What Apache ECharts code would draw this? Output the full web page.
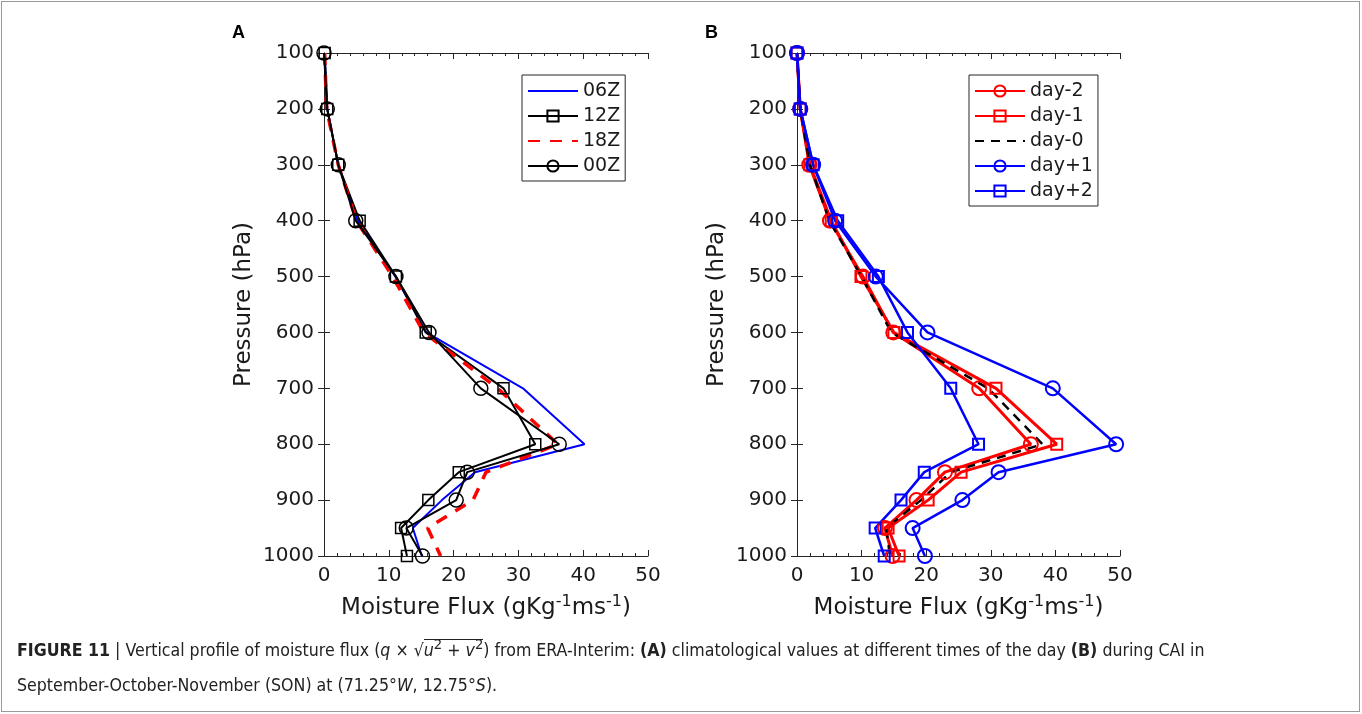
<!DOCTYPE html>
<html>
<head>
<meta charset="utf-8">
<script src="https://cdn.jsdelivr.net/npm/echarts@6/dist/echarts.min.js"></script>
<style>
  html, body { margin: 0; padding: 0; background: #fff; }
  #frame { position: absolute; left: 1px; top: 1px; width: 1359px; height: 711px; border: 1px solid #9a9a9a; box-sizing: border-box; }
  #chart { position: absolute; left: 0; top: 0; width: 1362px; height: 630px; }
  #caption { position: absolute; left: 17px; top: 626px; font-family: "Liberation Sans Narrow", "DejaVu Sans Condensed", "Liberation Sans", sans-serif; font-size: 17.6px; line-height: 35px; color: #222; white-space: nowrap; }
  #caption b { font-weight: bold; }
  .rad { border-top: 1px solid #222; }
</style>
</head>
<body>
<div id="frame"></div>
<div id="chart"></div>
<div id="caption">
  <b>FIGURE 11</b> | Vertical profile of moisture flux (<i>q</i> &times; &radic;<span class="rad"><i>u</i><sup>2</sup> + <i>v</i><sup>2</sup></span>) from ERA-Interim: <b>(A)</b> climatological values at different times of the day <b>(B)</b> during CAI in<br>
  September-October-November (SON) at (71.25&deg;<i>W</i>, 12.75&deg;<i>S</i>).
</div>
<script>
// pressure levels (hPa)
const pressure = [100, 200, 300, 400, 500, 600, 700, 800, 850, 900, 950, 1000];

// panel A: climatology by hour
const flux06Z = [0.1, 0.5, 2.2, 5.2, 11.0, 15.8, 30.7, 40.2, 23.3, 18.2, 13.7, 15.1];
const flux12Z = [0.1, 0.5, 2.2, 5.5, 11.1, 15.7, 27.7, 32.6, 20.8, 16.1, 11.9, 12.8];
const flux18Z = [0.1, 0.4, 2.2, 5.0, 10.6, 15.4, 26.8, 36.1, 25.0, 23.0, 16.0, 18.0];
const flux00Z = [0.0, 0.5, 2.2, 4.9, 11.1, 16.2, 24.2, 36.3, 22.1, 20.4, 12.7, 15.2];

// panel B: composite around CAI days
const dayM2 = [0.0, 0.5, 1.9, 5.1, 10.2, 14.9, 28.2, 36.2, 22.9, 18.5, 13.6, 14.8];
const dayM1 = [0.0, 0.5, 2.0, 5.3, 9.9, 15.0, 30.8, 40.2, 25.4, 20.3, 14.1, 15.8];
const day0 = [0.0, 0.5, 2.0, 5.0, 10.0, 14.6, 29.6, 38.0, 23.8, 19.2, 13.8, 14.4];
const dayP1 = [0.0, 0.5, 2.5, 5.9, 12.2, 20.2, 39.6, 49.4, 31.2, 25.6, 17.9, 19.8];
const dayP2 = [0.0, 0.5, 2.5, 6.3, 12.6, 17.1, 23.8, 28.1, 19.7, 16.1, 12.1, 13.5];

const legendA = ["06Z", "12Z", "18Z", "00Z"];
const legendB = ["day-2", "day-1", "day-0", "day+1", "day+2"];

const axisColor = "#262626";
const textColor = "#1a1a1a";
const font = "DejaVu Sans";
const blue = "#0000ff";
const red = "#ff0000";

const tickStyle = { inside: true, length: 6, lineStyle: { color: axisColor, width: 1 } };
const minorStyle = { show: true, splitNumber: 5, length: 3, lineStyle: { color: axisColor, width: 1 } };
const plainNum = (v) => String(v);

function xAxes(grid) {
  return [
    {
      gridIndex: grid, type: "value", min: 0, max: 50, interval: 10, position: "bottom",
      axisLine: { lineStyle: { color: axisColor, width: 1 } },
      axisTick: tickStyle, minorTick: minorStyle,
      axisLabel: { fontSize: 20, fontFamily: font, color: textColor, margin: 10, formatter: plainNum },
      splitLine: { show: false },
      name: "{m|Moisture Flux (gKg}{s|-1}{m|ms}{s|-1}{m|)}",
      nameLocation: "middle", nameGap: 38,
      nameTextStyle: {
        rich: {
          m: { fontSize: 23, fontFamily: font, color: textColor, lineHeight: 28 },
          s: { fontSize: 16, fontFamily: font, color: textColor, lineHeight: 8, verticalAlign: "top" },
        },
      },
    },
    {
      gridIndex: grid, type: "value", min: 0, max: 50, interval: 10, position: "top",
      axisLine: { lineStyle: { color: axisColor, width: 1 } },
      axisTick: tickStyle, minorTick: minorStyle,
      axisLabel: { show: false }, splitLine: { show: false },
    },
  ];
}

function yAxes(grid) {
  return [
    {
      gridIndex: grid, type: "value", min: 100, max: 1000, interval: 100, inverse: true, position: "left",
      axisLine: { lineStyle: { color: axisColor, width: 1 } },
      axisTick: tickStyle,
      axisLabel: { fontSize: 20, fontFamily: font, color: textColor, margin: 10, formatter: plainNum },
      splitLine: { show: false },
      name: "Pressure (hPa)", nameLocation: "middle", nameGap: 68,
      nameTextStyle: { fontSize: 23, fontFamily: font, color: textColor },
    },
    {
      gridIndex: grid, type: "value", min: 100, max: 1000, interval: 100, inverse: true, position: "right",
      axisLine: { lineStyle: { color: axisColor, width: 1 } },
      axisTick: tickStyle,
      axisLabel: { show: false }, splitLine: { show: false },
    },
  ];
}

function profile(name, vals, axis, color, o) {
  const hasMarker = !!o.symbol;
  return {
    name: name,
    type: "line",
    xAxisIndex: axis,
    yAxisIndex: axis,
    data: vals.map((v, i) => [v, pressure[i]]),
    symbol: o.symbol || "none",
    symbolSize: o.size || 12,
    clip: false,
    lineStyle: { color: color, width: o.width || 2, type: o.dash || "solid" },
    // lines without markers get an invisible legend marker too
    itemStyle: { color: "rgba(0,0,0,0)", borderColor: hasMarker ? color : "rgba(0,0,0,0)", borderWidth: o.bw || 1.5 },
    emphasis: { disabled: true },
    z: o.z || 2,
  };
}

function legendBox(names, left) {
  return {
    data: names, orient: "vertical", left: left, top: 75,
    padding: [6, 5, 5, 5], itemWidth: 50, itemHeight: 14, itemGap: 5,
    borderColor: axisColor, borderWidth: 1, backgroundColor: "#fff",
    selectedMode: false,
    textStyle: { fontSize: 19, fontFamily: font, color: textColor, lineHeight: 20 },
  };
}

const chart = echarts.init(document.getElementById("chart"));
chart.setOption({
  animation: false,
  backgroundColor: "transparent",
  grid: [
    { left: 324, top: 53, width: 324, height: 503 },
    { left: 797, top: 53, width: 323, height: 503 },
  ],
  xAxis: xAxes(0).concat(xAxes(1)),
  yAxis: yAxes(0).concat(yAxes(1)),
  legend: [legendBox(legendA, 522), legendBox(legendB, 969)],
  graphic: [
    { type: "text", left: 232, top: 24, style: { text: "A", font: 'bold 18px "Liberation Sans"', fill: "#000" } },
    { type: "text", left: 705, top: 24, style: { text: "B", font: 'bold 18px "Liberation Sans"', fill: "#000" } },
  ],
  series: [
    profile("06Z", flux06Z, 0, blue, { width: 2 }),
    profile("12Z", flux12Z, 0, "#000", { symbol: "rect", size: 11, width: 2 }),
    profile("18Z", flux18Z, 0, red, { width: 3.5, dash: [12, 10] }),
    profile("00Z", flux00Z, 0, "#000", { symbol: "circle", size: 14, width: 2 }),

    profile("day-2", dayM2, 2, red, { symbol: "circle", size: 14, width: 3, bw: 2 }),
    profile("day-1", dayM1, 2, red, { symbol: "rect", size: 11, width: 3, bw: 2 }),
    profile("day-0", day0, 2, "#000", { width: 2.5, dash: [9, 7] }),
    profile("day+1", dayP1, 2, blue, { symbol: "circle", size: 14, width: 2.5, bw: 2 }),
    profile("day+2", dayP2, 2, blue, { symbol: "rect", size: 11, width: 2.5, bw: 2 }),
  ],
});
</script>
</body>
</html>
